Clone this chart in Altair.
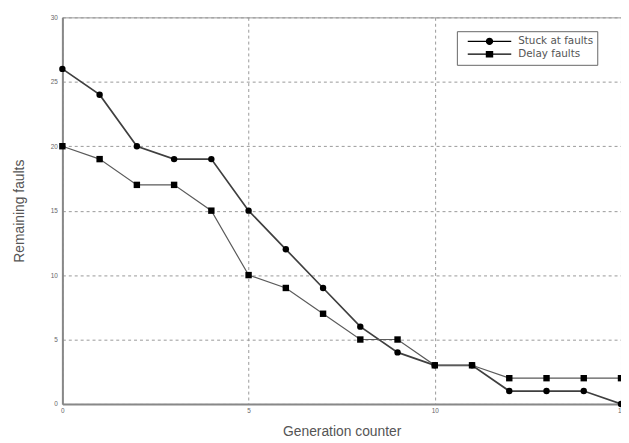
import altair as alt
import pandas as pd

generation = list(range(16))
stuck_at = [26, 24, 20, 19, 19, 15, 12, 9, 6, 4, 3, 3, 1, 1, 1, 0]
delay = [20, 19, 17, 17, 15, 10, 9, 7, 5, 5, 3, 3, 2, 2, 2, 2]
series_names = ["Stuck at faults", "Delay faults"]
x_ticks = [0, 5, 10, 15]
y_ticks = [0, 5, 10, 15, 20, 25, 30]

rows = []
for g, s, d in zip(generation, stuck_at, delay):
    rows.append({"gen": g, "faults": s, "series": series_names[0]})
    rows.append({"gen": g, "faults": d, "series": series_names[1]})
df = pd.DataFrame(rows)

circle_path = ("M-4.4,-0.12 L4.4,-0.12 L4.4,0.12 L-4.4,0.12 Z "
               "M0.75,0 A0.75,0.75 0 1,1 -0.75,0 A0.75,0.75 0 1,1 0.75,0 Z")
square_path = ("M-4.4,-0.12 L4.4,-0.12 L4.4,0.12 L-4.4,0.12 Z "
               "M-0.75,-0.65 L0.75,-0.65 L0.75,0.65 L-0.75,0.65 Z")

x_enc = alt.X("gen:Q", scale=alt.Scale(domain=[0, 15], nice=False),
              axis=alt.Axis(values=x_ticks, title="Generation counter", grid=True,
                            ticks=False, labelPadding=4, titlePadding=10,
                            labelFlush=False))
y_enc = alt.Y("faults:Q", scale=alt.Scale(domain=[0, 30], nice=False),
              axis=alt.Axis(values=y_ticks, title="Remaining faults", grid=True,
                            ticks=False, labelPadding=5, titlePadding=24))

base = alt.Chart(df)

lines = base.mark_line().encode(
    x=x_enc, y=y_enc, detail="series:N",
    color=alt.Color("series:N", legend=None,
                    scale=alt.Scale(domain=series_names, range=["#3f3f3f", "#5a5a5a"])),
    strokeWidth=alt.StrokeWidth("series:N", legend=None,
                                scale=alt.Scale(domain=series_names, range=[1.7, 1.2])))

points = base.mark_point(filled=True, color="black", opacity=1, size=42).encode(
    x="gen:Q", y="faults:Q",
    shape=alt.Shape("series:N",
                    scale=alt.Scale(domain=series_names, range=["circle", "square"]),
                    legend=None))

legend_layer = base.transform_filter("false").mark_point(
    filled=True, color="black", opacity=1).encode(
    x="gen:Q", y="faults:Q",
    shape=alt.Shape("series:N",
                    scale=alt.Scale(domain=series_names,
                                    range=[circle_path, square_path]),
                    legend=alt.Legend(title=None, orient="none", legendX=399, legendY=14,
                                      symbolSize=100, symbolOffset=23,
                                      labelOffset=23, clipHeight=12.5,
                                      labelFontSize=10.5, labelColor="#555555",
                                      labelFont="DejaVu Sans",
                                      labelExpr="datum.label + '\u00a0\u00a0\u00a0\u00a0'",
                                      rowPadding=0, padding=4,
                                      strokeColor="#666666", fillColor="white",
                                      symbolFillColor="black")))

chart = alt.layer(lines, points, legend_layer).resolve_scale(
    shape="independent"
).properties(
    width=565, height=391,
    autosize=alt.AutoSizeParams(type="none"),
    padding={"left": 55, "top": 7, "right": 0, "bottom": 35},
).configure_view(
    stroke="#999999", strokeWidth=1
).configure_axis(
    gridColor="#999999", gridDash=[3, 3], gridWidth=1,
    domainColor="#888888", domainWidth=2,
    labelFont="Liberation Sans", labelFontSize=6.5, labelColor="#666666",
    titleFont="Liberation Sans", titleFontSize=14, titleColor="#555555",
    titleFontWeight="normal",
)

chart.save("out.html", embed_options={"renderer": "svg", "actions": False})
